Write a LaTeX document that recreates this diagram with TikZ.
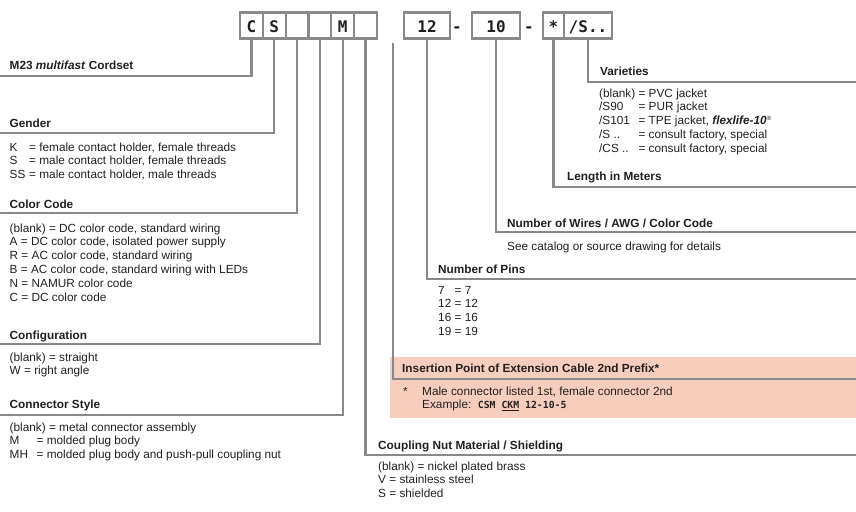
\documentclass[tikz,border=0pt]{standalone}
\usepackage{fontspec}
\setmainfont{Liberation Sans}
\newfontfamily\codefont{DejaVu Sans Mono}
\usetikzlibrary{positioning}

\definecolor{rulegray}{RGB}{137,137,141}
\definecolor{inkblack}{RGB}{35,31,32}
\definecolor{notepink}{RGB}{247,206,190}

\newcommand{\codelist}[1]{\begin{tabular}[t]{@{}l@{}}#1\end{tabular}}

\tikzset{
  codebox/.style={draw=rulegray, line width=2.2pt, inner sep=0pt, outer sep=0pt,
    minimum height=26pt, text height=15pt, text depth=0pt, text=inkblack,
    font=\codefont\bfseries\fontsize{16}{16}\selectfont},
  rule/.style={draw=rulegray, line width=2.2pt},
  head/.style={anchor=base west, inner sep=0pt, text=inkblack,
    font=\bfseries\fontsize{11.8}{13.8}\selectfont},
  body/.style={anchor=base west, inner sep=0pt, text=inkblack,
    font=\fontsize{11.8}{13.8}\selectfont},
}

\begin{document}
\begin{tikzpicture}[x=1pt, y=-1pt]

    \useasboundingbox (0,0) rectangle (856,511);

    % Shaded note behind the insertion point
    \fill[notepink] (390,357) rectangle (856,418);

    % Order code boxes
    \node[codebox, minimum width=22.8pt] (code-c) at (251.4,25.5) {C};
    \node[codebox, minimum width=22.8pt] (code-s) at (274.2,25.5) {S};
    \node[codebox, minimum width=22.8pt] (code-color) at (297,25.5) {};
    \node[codebox, minimum width=22.8pt] (code-config) at (319.8,25.5) {};
    \node[codebox, minimum width=22.8pt] (code-m) at (342.6,25.5) {M};
    \node[codebox, minimum width=22.8pt] (code-coupling) at (365.4,25.5) {};
    \node[codebox, minimum width=46pt] (code-pins) at (427,25.5) {12};
    \node[codebox, draw=none] (dash1) at (457,25.5) {-};
    \node[codebox, minimum width=48pt] (code-wires) at (496,25.5) {10};
    \node[codebox, draw=none] (dash2) at (529,25.5) {-};
    \node[codebox, minimum width=21pt] (code-length) at (553.5,25.5) {*};
    \node[codebox, minimum width=48pt] (code-variety) at (588,25.5) {/S..};

    % Ends of the rules under each heading
    \coordinate (m23-end) at (0,76);
    \coordinate (gender-end) at (0,133);
    \coordinate (color-end) at (0,213);
    \coordinate (config-end) at (0,344);
    \coordinate (style-end) at (0,415);
    \coordinate (coupling-end) at (856,455);
    \coordinate (insert-top) at (393,43);
    \coordinate (insert-end) at (856,379);
    \coordinate (pins-end) at (856,279);
    \coordinate (wires-end) at (856,232);
    \coordinate (length-end) at (856,187);
    \coordinate (variety-end) at (856,82);

    % Leader lines from the boxes down to the headings
    \foreach \src/\dst in {code-c.south/m23-end, code-s.south/gender-end,
        code-color.south/color-end, code-config.south/config-end,
        code-m.south/style-end, code-coupling.south/coupling-end,
        insert-top/insert-end, code-pins.south/pins-end,
        code-wires.south/wires-end, code-length.south/length-end,
        code-variety.south/variety-end}
      \draw[rule] (\src) |- (\dst);

    % Left-hand headings and their codes
    \node[head] (m23-head) at (9.5,70) {M23 \textit{multifast} Cordset};

    \node[head] (gender-head) at (9.5,127.5) {Gender};
    \node[body] (gender-list) at (9.5,151) {\codelist{%
      \makebox[19.5pt][l]{K}= female contact holder, female threads\\
      \makebox[19.5pt][l]{S}= male contact holder, female threads\\
      \makebox[19.5pt][l]{SS}= male contact holder, male threads}};

    \node[head] (color-head) at (9.5,208) {Color Code};
    \node[body] (color-list) at (9.5,232) {\codelist{%
      (blank) = DC color code, standard wiring\\
      A = DC color code, isolated power supply\\
      R = AC color code, standard wiring\\
      B = AC color code, standard wiring with LEDs\\
      N = NAMUR color code\\
      C = DC color code}};

    \node[head] (config-head) at (9.5,339.5) {Configuration};
    \node[body] (config-list) at (9.5,361) {\codelist{%
      (blank) = straight\\
      W = right angle}};

    \node[head] (style-head) at (9.5,408.5) {Connector Style};
    \node[body] (style-list) at (9.5,431) {\codelist{%
      (blank) = metal connector assembly\\
      \makebox[27pt][l]{M}= molded plug body\\
      \makebox[27pt][l]{MH}= molded plug body and push-pull coupling nut}};

    % Right-hand headings and their codes
    \node[head] (coupling-head) at (378,449) {Coupling Nut Material / Shielding};
    \node[body] (coupling-list) at (378,470) {\codelist{%
      (blank) = nickel plated brass\\
      V = stainless steel\\
      S = shielded}};

    \node[head] (insert-head) at (402,372.5) {Insertion Point of Extension Cable 2nd Prefix*};
    \node[body] (insert-note) at (403,395) {\codelist{%
      \makebox[19pt][l]{*}Male connector listed 1st, female connector 2nd\\
      \hspace*{19pt}Example:\ \ {\codefont\bfseries\fontsize{9.8}{13.8}\selectfont CSM \underline{CKM} 12-10-5}}};

    \node[head] (pins-head) at (438,273) {Number of Pins};
    \node[body] (pins-list) at (438,294) {\begin{tabular}[t]{@{}l@{ }l@{}}
      7 & = 7\\ 12 & = 12\\ 16 & = 16\\ 19 & = 19\end{tabular}};

    \node[head] (wires-head) at (507,227) {Number of Wires / AWG / Color Code};
    \node[body] (wires-note) at (507,250) {See catalog or source drawing for details};

    \node[head] (length-head) at (567,180) {Length in Meters};

    \node[head] (variety-head) at (600,75) {Varieties};
    \node[body] (variety-list) at (599,97) {\begin{tabular}[t]{@{}l@{ }l@{}}
      (blank) & = PVC jacket\\
      /S90 & = PUR jacket\\
      /S101 & = TPE jacket, \textbf{\textit{flexlife-10}}\raisebox{4pt}{\fontsize{6}{6}\selectfont ®}\\
      /S .. & = consult factory, special\\
      /CS .. & = consult factory, special\end{tabular}};

\end{tikzpicture}
\end{document}
